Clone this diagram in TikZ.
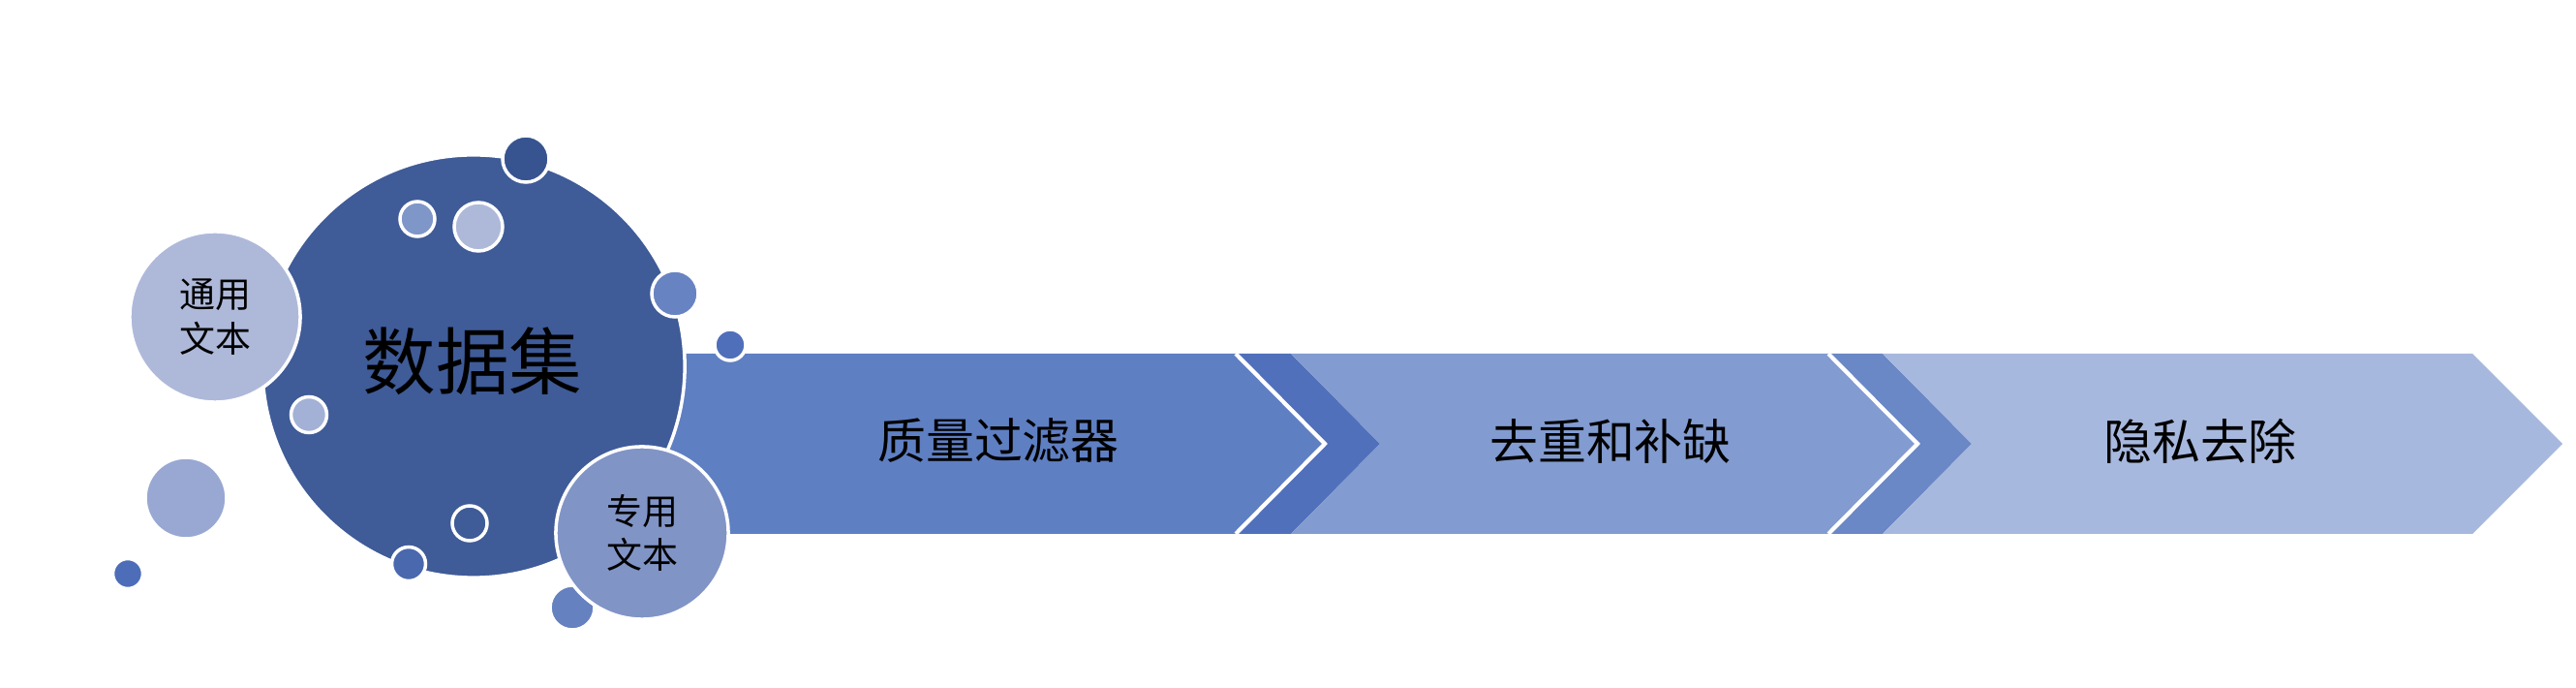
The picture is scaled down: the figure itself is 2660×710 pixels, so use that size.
\documentclass[tikz,border=0pt]{standalone}
\usepackage{fontspec}
\newfontfamily\cjk{Noto Sans CJK SC}
\definecolor{coredark}{HTML}{3F5B98}
\definecolor{chevone}{HTML}{5F7FC3}
\definecolor{bandone}{HTML}{5070BC}
\definecolor{chevtwo}{HTML}{829BD0}
\definecolor{bandtwo}{HTML}{6A87C6}
\definecolor{chevthree}{HTML}{A7B8DE}
\definecolor{bubdark}{HTML}{375490}
\definecolor{bubmid}{HTML}{7F96C8}
\definecolor{bubpale}{HTML}{AEB9DA}
\definecolor{bubsky}{HTML}{6883C2}
\definecolor{bubdeep}{HTML}{4F6FBA}
\definecolor{bubsoft}{HTML}{A3B1D6}
\definecolor{bubnavy}{HTML}{4A68AE}
\definecolor{bubgrey}{HTML}{98A8D2}
\definecolor{bubspot}{HTML}{4D6DB8}
\definecolor{bubtail}{HTML}{6581C0}
\definecolor{bubspec}{HTML}{8194C6}

\begin{document}
\begin{tikzpicture}[x=0.01cm,y=-0.01cm,
  bubble/.style={draw=white,line width=1pt},
  textbub/.style={bubble,circle,inner sep=0pt,align=center,
    font=\cjk\fontsize{10.5pt}{13pt}\selectfont},
  stagetext/.style={font=\cjk\fontsize{14.2pt}{17pt}\selectfont,text=black},
  tipedge/.style={white,line width=1.2pt}]
  \useasboundingbox (0,0) rectangle (2660,710);
  % chevrons
  \fill[chevone] (650,365) -- (1276,365) -- (1368,458) -- (1276,551) -- (650,551) -- cycle;
  \fill[bandone] (1276,365) -- (1333,365) -- (1425,458) -- (1333,551) -- (1276,551) -- (1368,458) -- cycle;
  \fill[chevtwo] (1333,365) -- (1888,365) -- (1980,458) -- (1888,551) -- (1333,551) -- (1425,458) -- cycle;
  \fill[bandtwo] (1888,365) -- (1944,365) -- (2036,458) -- (1944,551) -- (1888,551) -- (1980,458) -- cycle;
  \fill[chevthree] (1944,365) -- (2553,365) -- (2646,458) -- (2553,551) -- (1944,551) -- (2036,458) -- cycle;
  \draw[tipedge] (1276,365) -- (1368,458) -- (1276,551);
  \draw[tipedge] (1888,365) -- (1980,458) -- (1888,551);
  \node[stagetext] (filter) at (1031,455) {质量过滤器};
  \node[stagetext] (dedup) at (1663,455) {去重和补缺};
  \node[stagetext] (privacy) at (2272,455) {隐私去除};
  % loose bubbles
  \foreach \x/\y/\r/\c in {192/514/42/bubgrey,132/592/15.5/bubspot,591/627/23/bubtail}
    \draw[bubble,fill=\c] (\x,\y) circle (\r);
  % data set
  \node[bubble,circle,fill=coredark,minimum size=4.36cm,inner sep=0pt,
    font=\cjk\fontsize{21.5pt}{25pt}\selectfont] (dataset) at (489,378) {};
  \node[font=\cjk\fontsize{21.5pt}{25pt}\selectfont] (datatext) at (488,373) {数据集};
  \foreach \x/\y/\r/\c in {543/164/24/bubdark,431/226/18/bubmid,494/234/25/bubpale,
      697/303/24/bubsky,754/356/16/bubdeep,319/428/18.5/bubsoft,485/540/18/coredark,
      422/582/17.5/bubnavy}
    \draw[bubble,fill=\c] (\x,\y) circle (\r);
  \node[textbub,fill=bubpale,minimum size=1.76cm] (general) at (222,327) {通用\\文本};
  \node[textbub,fill=bubspec,minimum size=1.78cm] (special) at (663,550) {专用\\文本};
\end{tikzpicture}
\end{document}
